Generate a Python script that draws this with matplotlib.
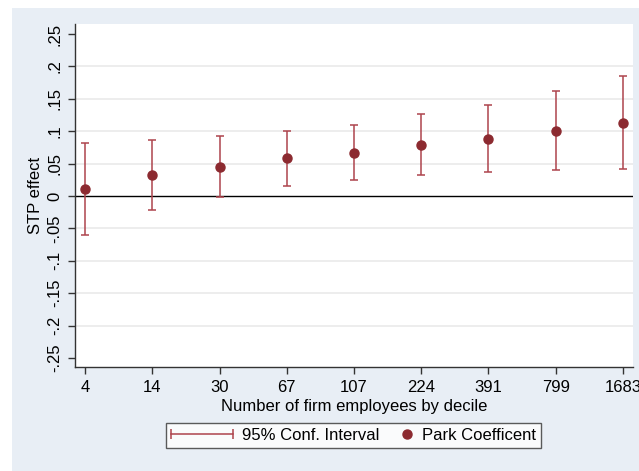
import matplotlib
matplotlib.use("Agg")
import matplotlib.pyplot as plt
from matplotlib.lines import Line2D
from matplotlib.legend_handler import HandlerLine2D
from matplotlib.patches import Rectangle

plt.rcParams['font.family'] = ['Liberation Sans', 'DejaVu Sans']

categories = ["4", "14", "30", "67", "107", "224", "391", "799", "1683"]
coef = [0.011, 0.032, 0.045, 0.059, 0.066, 0.079, 0.088, 0.101, 0.113]
ci_low = [-0.060, -0.022, -0.001, 0.016, 0.024, 0.032, 0.037, 0.040, 0.041]
ci_high = [0.082, 0.086, 0.092, 0.101, 0.109, 0.126, 0.141, 0.162, 0.185]
yticks = [-0.25, -0.2, -0.15, -0.1, -0.05, 0, 0.05, 0.1, 0.15, 0.2, 0.25]
yticklabels = ["-.25", "-.2", "-.15", "-.1", "-.05", "0", ".05", ".1", ".15", ".2", ".25"]

bar_color = "#AE444D"
dot_color = "#8C2A30"
bg = "#E8EEF5"
FS = 12

W, H = 639, 471
fig = plt.figure(figsize=(W / 100, H / 100), dpi=100)
fig.patch.set_facecolor("white")
fig.patches.append(Rectangle((12 / W, 0), 1 - 12 / W, (H - 8) / H,
                             transform=fig.transFigure, facecolor=bg,
                             edgecolor="none", zorder=-10))

ax = fig.add_axes([75 / W, (H - 367) / H, (633 - 75) / W, (367 - 24) / H])
ax.set_facecolor("white")

x = list(range(1, len(categories) + 1))
yerr = [[c - l for c, l in zip(coef, ci_low)], [h - c for c, h in zip(coef, ci_high)]]
ax.errorbar(x, coef, yerr=yerr, fmt="none", ecolor=bar_color, elinewidth=1.1,
            capsize=3, capthick=1.1, zorder=3)
ax.plot(x, coef, "o", color=dot_color, markersize=6.5, zorder=4)

ax.axhline(0, color="black", lw=1, zorder=2)
for yv in yticks[1:-1]:
    if yv != 0:
        ax.axhline(yv, color="#EAEAEA", lw=1.2, zorder=1)

ax.set_xlim(0.85, 9.15)
ax.set_ylim(-0.264, 0.2654)
ax.set_xticks(x)
ax.set_xticklabels(categories, fontsize=FS)
ax.set_yticks(yticks)
ax.set_yticklabels(yticklabels, fontsize=FS, rotation=90, va="center")
ax.tick_params(axis="both", direction="out", length=5, width=1, color="#333333", pad=4)

for s in ["top", "right"]:
    ax.spines[s].set_visible(False)
for s in ["left", "bottom"]:
    ax.spines[s].set_color("#333333")
    ax.spines[s].set_linewidth(1)

ax.set_xlabel("Number of firm employees by decile", fontsize=FS, labelpad=3)
ax.set_ylabel("STP effect", fontsize=FS, labelpad=3)


class RightDotHandler(HandlerLine2D):
    def get_xdata(self, legend, xdescent, ydescent, width, height, fontsize):
        xm = [-xdescent + width - 0.36 * fontsize]
        return xm, xm


h_ci = Line2D([], [], color=bar_color, lw=1.1, marker="|", markersize=7, markeredgewidth=1.1)
h_pt = Line2D([], [], color=dot_color, lw=0, marker="o", markersize=6.5, linestyle="none")
leg = fig.legend([h_ci, h_pt], ["95% Conf. Interval", "Park Coefficent"],
                 loc="center", bbox_to_anchor=(353.5 / W, (H - 435.5) / H),
                 ncol=2, fontsize=FS, frameon=True, fancybox=False,
                 handlelength=3.7, handletextpad=0.54, columnspacing=-1.68,
                 borderpad=0.3, borderaxespad=0,
                 handler_map={h_ci: HandlerLine2D(numpoints=2, marker_pad=0),
                              h_pt: RightDotHandler(numpoints=2)})
leg.get_frame().set_edgecolor("#333333")
leg.get_frame().set_linewidth(1)
leg.get_frame().set_facecolor("white")

fig.savefig("out.png", dpi=100, facecolor=fig.get_facecolor())
